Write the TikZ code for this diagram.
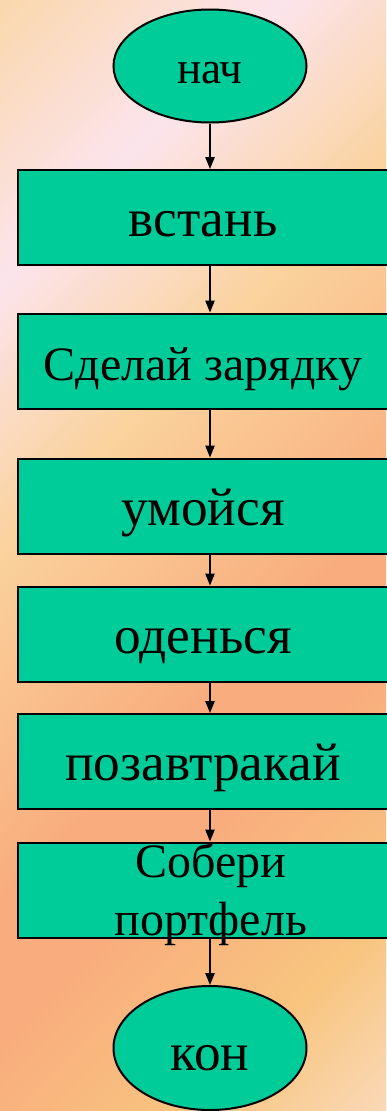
\documentclass[tikz,border=0pt]{standalone}
\usepackage{fontspec}
\setmainfont{Liberation Serif}
\usepackage{tikz}
\usetikzlibrary{shapes.geometric,arrows.meta}
\definecolor{bgA}{HTML}{FAD7AC}
\definecolor{bgB}{HTML}{FCE4EC}
\definecolor{bgC}{HTML}{FAD29C}
\definecolor{bgD}{HTML}{F9AD7E}
\definecolor{bgE}{HTML}{F8C57F}
\definecolor{bgF}{HTML}{FAD8B8}
\definecolor{blockgreen}{HTML}{00CC99}
\pgfdeclarehorizontalshading{sunset}{100bp}{color(0bp)=(bgA); color(25bp)=(bgA); color(34.5bp)=(bgB); color(43.5bp)=(bgC); color(55bp)=(bgD); color(60bp)=(bgD); color(68.5bp)=(bgE); color(75bp)=(bgF); color(100bp)=(bgF)}

\begin{document}
\begin{tikzpicture}[x=0.75pt,y=-0.75pt,
    block/.style={draw,line width=1.5pt,fill=blockgreen,minimum width=277.5pt,minimum height=71.25pt,inner sep=0pt,text height=28.5pt,text depth=0pt,font=\fontsize{40}{44}\selectfont},
    smallblock/.style={block,font=\fontsize{36}{40}\selectfont},
    term/.style={ellipse,draw,line width=1.5pt,fill=blockgreen,minimum width=144.75pt,inner sep=0pt,text depth=0pt},
    flow/.style={line width=1.2pt,-{Triangle[length=9pt,width=7pt]}}]
  \useasboundingbox (0,0) rectangle (386,1111);
  \begin{scope}
    \clip (0,0) rectangle (386,1111);
    \shade[shading=sunset,transform canvas={rotate=-45}] (0pt,-590pt) rectangle (794pt,205pt);
  \end{scope}
  \node[term,minimum height=84.75pt,text height=25.5pt,font=\fontsize{34}{40}\selectfont] (start) at (210,66) {нач};
  \node[block] (b1) at (203,217.5) {встань};
  \node[smallblock] (b2) at (203,361) {Сделай зарядку};
  \node[block] (b3) at (203,506) {умойся};
  \node[block] (b4) at (203,634) {оденься};
  \node[block] (b5) at (203,761.5) {позавтракай};
  \node[smallblock] (b6) at (203,890) {\smash{\raisebox{24pt}{\hspace*{12pt}\begin{tabular}[t]{@{}c@{}}Собери\\[3.5pt]портфель\end{tabular}}}};
  \node[term,minimum height=93pt,text height=33pt,font=\fontsize{40}{44}\selectfont] (end) at (210,1048) {кон};
  \draw[flow] (start) -- (start |- b1.north);
  \draw[flow] (b1.south -| start) -- (b2.north -| start);
  \draw[flow] (b2.south -| start) -- (b3.north -| start);
  \draw[flow] (b3.south -| start) -- (b4.north -| start);
  \draw[flow] (b4.south -| start) -- (b5.north -| start);
  \draw[flow] (b5.south -| start) -- (b6.north -| start);
  \draw[flow] (b6.south -| start) -- (end);
\end{tikzpicture}
\end{document}
